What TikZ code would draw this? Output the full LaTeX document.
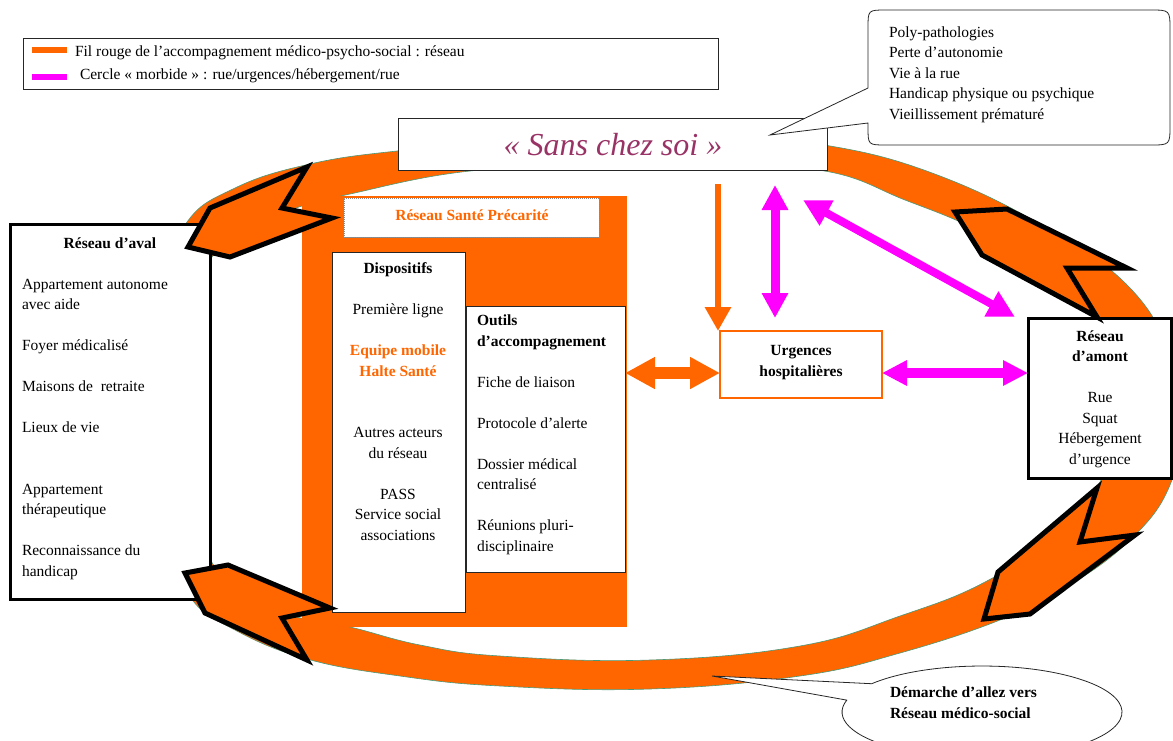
\documentclass[tikz,border=0pt]{standalone}
\usepackage{fontspec}
\setmainfont{Liberation Serif}
\usetikzlibrary{arrows.meta}
\definecolor{org}{HTML}{FF6600}
\definecolor{mag}{HTML}{FF00FF}
\definecolor{plum}{HTML}{993366}
\definecolor{edgegreen}{HTML}{4A9A7A}
\begin{document}
\begin{tikzpicture}[x=1pt,y=-1pt,
  txt/.style={inner sep=0pt, outer sep=0pt, font=\fontsize{15.5}{20.5}\selectfont},
  btxt/.style={txt, font=\fontsize{15.5}{20.5}\selectfont\bfseries},
  boxnode/.style={anchor=north west, inner sep=0pt, outer sep=0pt},
  thinbox/.style={boxnode, draw=black!85, line width=1pt, fill=white},
  thickbox/.style={boxnode, draw=black, line width=3pt, fill=white},
  chev/.style={fill=org, draw=black, line width=5pt, line join=miter, miter limit=10},
  callout/.style={draw=black!85, fill=white, line width=0.8pt},
]
\useasboundingbox (0,0) rectangle (1173,740);

% ---- ring ----
\path[fill=org, even odd rule, draw=edgegreen, line width=0.6pt]
  plot[smooth cycle, tension=0.7] coordinates {(500,143) (613,139) (730,141) (830,146) (940,176) (1050,230) (1130,288) (1170,355) (1180,420) (1170,485) (1130,540) (1065,588) (1000,620) (900,653) (800,676) (650,689) (500,686) (400,676) (307,659) (235,630) (190,597) (160,530) (150,420) (160,300) (185,225) (235,188) (310,164) (397,151)}
  plot[smooth cycle, tension=0.7] coordinates {(470,171) (613,165) (730,166) (830,172) (905,200) (965,224) (1035,258) (1082,302) (1107,355) (1114,420) (1102,478) (1060,532) (985,582) (900,616) (800,646) (650,660) (500,656) (420,645) (350,627) (290,615) (240,592) (208,555) (194,500) (190,420) (192,340) (205,270) (240,232) (290,210) (350,194)};

% ---- Réseau Santé Précarité container ----
\node[boxnode, fill=org, minimum width=325pt, minimum height=431pt] (rsp) at (302,196) {};
\node[boxnode, fill=white, draw=black!45, densely dotted, line width=1pt, minimum width=255pt, minimum height=39pt] (rsplabel) at (344,198) {};
\node[btxt, text=org] (rsptext) at (472,215) {Réseau Santé Précarité};

% ---- boxes ----
\node[thickbox, minimum width=200pt, minimum height=375pt] (aval) at (10,224) {};
\node[thickbox, minimum width=143pt, minimum height=160pt] (amont) at (1028,318) {};
\node[thinbox, minimum width=133pt, minimum height=360pt] (disp) at (332,252) {};
\node[thinbox, minimum width=159pt, minimum height=266pt] (outils) at (466,306) {};
\node[boxnode, draw=org, line width=2.5pt, fill=white, minimum width=162pt, minimum height=67pt] (urg) at (720,331) {};
\node[thinbox, minimum width=429pt, minimum height=52pt] (scsbox) at (398,118) {};
\node[txt, font=\fontsize{32}{34}\selectfont\itshape, text=plum] (scs) at (613,145) {« Sans chez soi »};

% ---- texts in boxes (base = last line baseline) ----
\node[btxt, anchor=base] (avaltitle) at (110,248) {Réseau d’aval};
\node[txt, align=left, anchor=base west] (avaltext) at (22,576)
  {Appartement autonome\\avec aide\\[20.5pt]Foyer médicalisé\\[20.5pt]Maisons de\ \ retraite\\[20.5pt]Lieux de vie\\[41pt]Appartement\\thérapeutique\\[20.5pt]Reconnaissance du\\handicap};

\node[txt, align=center, anchor=base] (disptext) at (398,540)
  {\textbf{Dispositifs}\\[20.5pt]Première ligne\\[20.5pt]\textcolor{org}{\textbf{Equipe mobile}}\\\textcolor{org}{\textbf{Halte Santé}}\\[41pt]Autres acteurs\\du réseau\\[20.5pt]PASS\\Service social\\associations};

\node[txt, align=left, anchor=base west] (outilstext) at (477,551)
  {\textbf{Outils}\\\textbf{d’accompagnement}\\[20.5pt]Fiche de liaison\\[20.5pt]Protocole d’alerte\\[20.5pt]Dossier médical\\centralisé\\[20.5pt]Réunions pluri-\\disciplinaire};

\node[btxt, align=center, anchor=base] (urgtext) at (801,376)
  {Urgences\\hospitalières};

\node[txt, align=center, anchor=base] (amonttext) at (1100,464)
  {\textbf{Réseau}\\\textbf{d’amont}\\[20.5pt]Rue\\Squat\\Hébergement\\d’urgence};

% ---- chevrons ----
\draw[chev] (210,208) -- (307,167) -- (282,208) -- (332,218) -- (230,257) -- (188,247) -- cycle;
\draw[chev] (185,573) -- (228,565) -- (330,608) -- (282,618) -- (307,660) -- (205,613) -- cycle;
\draw[chev] (955,212) -- (1007,209) -- (1127,268) -- (1067,268) -- (1097,317) -- (982,255) -- cycle;
\draw[chev] (998,572) -- (1097,488) -- (1080,542) -- (1135,535) -- (1030,614) -- (984,619) -- cycle;

% ---- arrows ----
\coordinate (odown) at (718,184);
\coordinate (mvtop) at (775,185);
\coordinate (mvbot) at (775,318);
\coordinate (mdtop) at (803,200);
\coordinate (mdbot) at (1015,317);
\draw[org, line width=6pt, -{Triangle[length=24pt, width=25pt]}] (odown) -- (odown |- urg.north);
\draw[mag, line width=9pt, {Triangle[length=25pt, width=25pt]}-{Triangle[length=25pt, width=25pt]}] (mvtop) -- (mvbot);
\draw[mag, line width=8pt, {Triangle[length=27pt, width=27pt]}-{Triangle[length=27pt, width=27pt]}] (mdtop) -- (mdbot);
\draw[org, line width=12pt, {Triangle[length=30pt, width=30pt]}-{Triangle[length=30pt, width=30pt]}] (outils.east |- 0,373) -- (urg.west |- 0,373);
\draw[mag, line width=10pt, {Triangle[length=25pt, width=24pt]}-{Triangle[length=25pt, width=24pt]}] (urg.east |- 0,373) -- (amont.west |- 0,373);

% ---- top callout ----
\draw[callout] (868,123) -- (868,127) .. controls (868,145) .. (886,145) -- (1150,145) .. controls (1170,145) .. (1170,125) -- (1170,30) .. controls (1170,10) .. (1150,10) -- (886,10) .. controls (868,10) .. (868,28) -- (868,88) -- (770,135) -- cycle;
\node[txt, align=left, anchor=base west] (calltext) at (889,119)
  {Poly-pathologies\\Perte d’autonomie\\Vie à la rue\\Handicap physique ou psychique\\Vieillissement prématuré};

% ---- bottom callout ----
\draw[callout] (871.7,683.7) arc[start angle=218, end angle=555, x radius=140, y radius=46] -- (712,676) -- cycle;
\node[btxt, align=left, anchor=base west] (demtext) at (890,718)
  {Démarche d’allez vers\\Réseau médico-social};

% ---- legend ----
\node[thinbox, minimum width=695pt, minimum height=51pt] (legend) at (23,38) {};
\draw[org, line width=6pt] (32,50) -- (67,50);
\draw[mag, line width=6pt] (32,77) -- (67,77);
\node[txt, anchor=west] (leg1) at (75,53) {Fil rouge de l’accompagnement médico-psycho-social : réseau};
\node[txt, anchor=west] (leg2) at (80,76) {Cercle « morbide » : rue/urgences/hébergement/rue};
\end{tikzpicture}
\end{document}
